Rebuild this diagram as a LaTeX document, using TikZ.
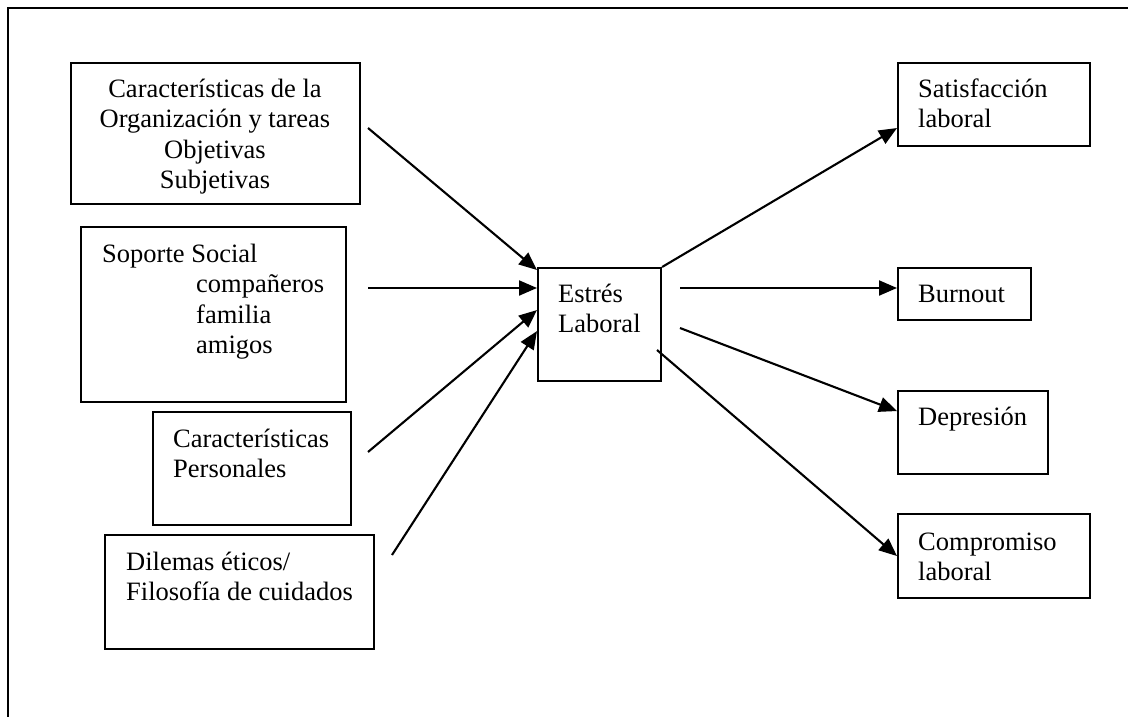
\documentclass[tikz,border=0pt]{standalone}
\usepackage{fontspec}
\setmainfont{Liberation Serif}
\usetikzlibrary{arrows.meta}
\begin{document}
\begin{tikzpicture}[x=1pt,y=-1pt,
  box/.style={draw, line width=2.1pt, rectangle, inner sep=0pt, anchor=north west},
  txt/.style={inner sep=0pt, anchor=north west, align=left, font=\fontsize{26.5}{30.5}\selectfont},
  arr/.style={line width=2.1pt, -{Triangle[length=18pt,width=15pt]}}]
\useasboundingbox (0,0) rectangle (1128,717);
\clip (0,0) rectangle (1128,717);
\fill[white] (0,0) rectangle (1128,717);
% outer frame, open at right and bottom
\draw[line width=2.1pt] (1140,8) -- (8,8) -- (8,730);

% boxes
\node[box, minimum width=289pt, minimum height=141pt] (org) at (70,62) {};
\node[box, minimum width=265pt, minimum height=175pt] (sop) at (80,226) {};
\node[box, minimum width=198pt, minimum height=113pt] (per) at (152,411) {};
\node[box, minimum width=269pt, minimum height=114pt] (dil) at (104,534) {};
\node[box, minimum width=123pt, minimum height=113pt] (est) at (537,267) {};
\node[box, minimum width=192pt, minimum height=83pt] (sat) at (897,62) {};
\node[box, minimum width=133pt, minimum height=52pt] (bur) at (897,267) {};
\node[box, minimum width=150pt, minimum height=83pt] (dep) at (897,390) {};
\node[box, minimum width=192pt, minimum height=84pt] (com) at (897,513) {};

% texts
\node[txt, anchor=north, align=center] (torg) at (215,75.65)
  {\strut Características de la\\Organización y tareas\\Objetivas\\Subjetivas};
\node[txt] (tsop) at (102,240.65)
  {\strut Soporte Social\\\hspace*{94pt}compañeros\\\hspace*{94pt}familia\\\hspace*{94pt}amigos};
\node[txt] (tper) at (173,425.65) {\strut Características\\Personales};
\node[txt] (tdil) at (126,548.65) {\strut Dilemas éticos/\\Filosofía de cuidados};
\node[txt] (test) at (558,280.65) {\strut Estrés\\Laboral};
\node[txt] (tsat) at (918,75.65) {\strut Satisfacción\\laboral};
\node[txt] (tbur) at (918,280.65) {\strut Burnout};
\node[txt] (tdep) at (918,403.65) {\strut Depresión};
\node[txt] (tcom) at (918,528.65) {\strut Compromiso\\laboral};

% incoming arrows
\coordinate (s1) at (368,128);
\coordinate (s2) at (368,288);
\coordinate (s3) at (368,452);
\coordinate (s4) at (392,555);
\draw[arr] (s1) -- ([yshift=-3pt]est.north west);
\draw[arr] (s2) -- (s2 -| est.west);
\draw[arr] (s3) -- ([yshift=14.5pt]est.west);
\draw[arr] (s4) -- ([yshift=-6.5pt]est.west);

% outgoing arrows
\coordinate (s6) at (680,288);
\coordinate (s7) at (680,328);
\coordinate (s8) at (657,350);
\draw[arr] (est.north east) -- ([yshift=-23.5pt]sat.west);
\draw[arr] (s6) -- (s6 -| bur.west);
\draw[arr] (s7) -- ([yshift=21.5pt]dep.west);
\draw[arr] (s8) -- (com.west);
\end{tikzpicture}
\end{document}
